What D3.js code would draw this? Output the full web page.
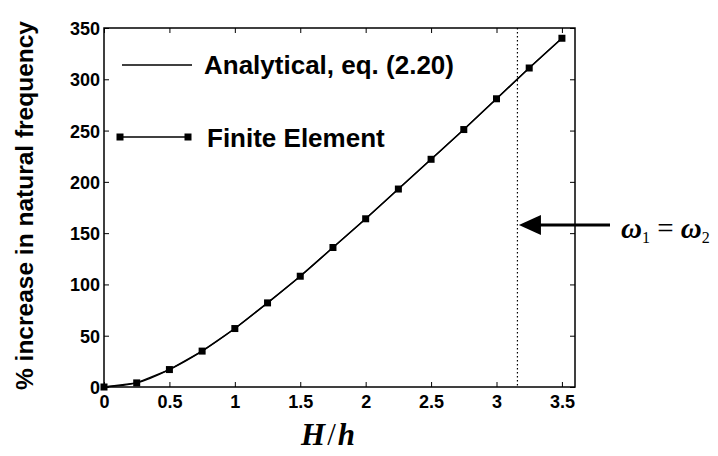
<!DOCTYPE html>
<html>
<head>
<meta charset="utf-8">
<script src="https://cdn.jsdelivr.net/npm/d3@7"></script>
<style>
  html, body { margin: 0; padding: 0; background: #fff; }
  svg { display: block; }
  .tick text { font-family: "Liberation Sans", Arial, sans-serif; font-weight: bold; font-size: 18px; fill: #000; }
</style>
</head>
<body>
<svg id="chart" width="718" height="456"></svg>
<script>
// Thickness ratio H/h and the percentage increase in natural frequency
const ratio = [0, 0.25, 0.5, 0.75, 1, 1.25, 1.5, 1.75, 2, 2.25, 2.5, 2.75, 3, 3.25, 3.5];
const increaseFE = [0, 4, 17, 35, 57, 82, 108, 136, 164, 193, 222, 251, 281, 311, 340];
const increaseAnalytical = [0, 4, 17, 35, 57, 82, 108, 136, 164, 193, 222, 251, 281, 311, 340];
const xTicks = [0, 0.5, 1, 1.5, 2, 2.5, 3, 3.5];
const yTicks = [0, 50, 100, 150, 200, 250, 300, 350];
const crossoverRatio = 3.16;   // where ω1 = ω2
const arrowLevel = 158;

const svg = d3.select("#chart");
const plotLeft = 104, plotRight = 575, plotTop = 28, plotBottom = 387;

const x = d3.scaleLinear().domain([0, 3.6]).range([plotLeft, plotRight]);
const y = d3.scaleLinear().domain([0, 350]).range([plotBottom, plotTop]);

// Axes with inward ticks, mirrored on top/right
const gx = svg.append("g").attr("transform", `translate(0,${plotBottom})`)
  .call(d3.axisBottom(x).tickValues(xTicks).tickFormat(d3.format("")).tickSizeInner(-5).tickSizeOuter(0).tickPadding(8));
const gxTop = svg.append("g").attr("transform", `translate(0,${plotTop})`)
  .call(d3.axisTop(x).tickValues(xTicks).tickFormat("").tickSizeInner(-5).tickSizeOuter(0));
const gy = svg.append("g").attr("transform", `translate(${plotLeft},0)`)
  .call(d3.axisLeft(y).tickValues(yTicks).tickFormat(d3.format("")).tickSizeInner(-5).tickSizeOuter(0).tickPadding(4));
const gyRight = svg.append("g").attr("transform", `translate(${plotRight},0)`)
  .call(d3.axisRight(y).tickValues(yTicks).tickFormat("").tickSizeInner(-5).tickSizeOuter(0));
[gx, gxTop, gy, gyRight].forEach(g => {
  g.select(".domain").remove();
  g.selectAll(".tick line").attr("stroke", "#000").attr("stroke-width", 1);
});
gy.selectAll(".tick text").attr("dy", "0.36em");

// Plot box
svg.append("rect").attr("x", plotLeft).attr("y", plotTop)
  .attr("width", plotRight - plotLeft).attr("height", plotBottom - plotTop)
  .attr("fill", "none").attr("stroke", "#000").attr("stroke-width", 1.5);

// Crossover line
svg.append("line")
  .attr("x1", x(crossoverRatio)).attr("x2", x(crossoverRatio))
  .attr("y1", plotTop).attr("y2", plotBottom)
  .attr("stroke", "#000").attr("stroke-width", 1.2).attr("stroke-dasharray", "1.5,2.5");

// Analytical curve
const analyticalPts = ratio.map((r, i) => [r, increaseAnalytical[i]]);
svg.append("path").datum(analyticalPts)
  .attr("fill", "none").attr("stroke", "#000").attr("stroke-width", 1.4)
  .attr("d", d3.line().x(d => x(d[0])).y(d => y(d[1])).curve(d3.curveMonotoneX));

// Finite element results
const fePts = ratio.map((r, i) => [r, increaseFE[i]]);
svg.append("path").datum(fePts)
  .attr("fill", "none").attr("stroke", "#000").attr("stroke-width", 1.4)
  .attr("d", d3.line().x(d => x(d[0])).y(d => y(d[1])));
svg.selectAll("rect.fe").data(fePts).enter().append("rect")
  .attr("class", "fe")
  .attr("x", d => x(d[0]) - 3.5).attr("y", d => y(d[1]) - 3.5)
  .attr("width", 7).attr("height", 7).attr("fill", "#000");

// Legend
const sansFont = '"Liberation Sans", Arial, sans-serif';
svg.append("line").attr("x1", 122).attr("x2", 192).attr("y1", 65).attr("y2", 65)
  .attr("stroke", "#000").attr("stroke-width", 1.4);
svg.append("text").attr("x", 204).attr("y", 74)
  .attr("font-family", sansFont).attr("font-weight", "bold").attr("font-size", 26)
  .text("Analytical, eq. (2.20)");
svg.append("line").attr("x1", 120).attr("x2", 188).attr("y1", 137).attr("y2", 137)
  .attr("stroke", "#000").attr("stroke-width", 1.4);
[120, 188].forEach(cx => svg.append("rect")
  .attr("x", cx - 3.5).attr("y", 133.5).attr("width", 7).attr("height", 7).attr("fill", "#000"));
svg.append("text").attr("x", 207).attr("y", 147)
  .attr("font-family", sansFont).attr("font-weight", "bold").attr("font-size", 26)
  .text("Finite Element");

// Arrow pointing at the crossover
const tipX = x(crossoverRatio) + 1.5, ay = y(arrowLevel);
svg.append("line").attr("x1", tipX + 18).attr("x2", 610).attr("y1", ay).attr("y2", ay)
  .attr("stroke", "#000").attr("stroke-width", 3);
svg.append("path")
  .attr("d", `M${tipX},${ay} L${tipX + 22},${ay - 10} L${tipX + 22},${ay + 10} Z`)
  .attr("fill", "#000");

// ω1 = ω2
const eq = svg.append("text").attr("x", 621).attr("y", 238)
  .attr("font-family", '"Liberation Serif", "Times New Roman", serif')
  .attr("font-weight", "bold").attr("font-size", 29);
eq.append("tspan").attr("font-style", "italic").text("ω");
eq.append("tspan").attr("font-size", 16).attr("font-weight", "normal").attr("dy", 5).text("1");
eq.append("tspan").attr("dy", -5).attr("font-weight", "normal").text(" = ");
eq.append("tspan").attr("font-style", "italic").text("ω");
eq.append("tspan").attr("font-size", 16).attr("font-weight", "normal").attr("dy", 5).text("2");

// Axis titles
svg.append("text")
  .attr("transform", `translate(33,${(plotTop + plotBottom) / 2 - 2}) rotate(-90)`)
  .attr("text-anchor", "middle")
  .attr("font-family", sansFont).attr("font-weight", "bold").attr("font-size", 24.5)
  .text("% increase in natural frequency");
const xt = svg.append("text").attr("x", 328).attr("y", 445)
  .attr("text-anchor", "middle")
  .attr("font-family", '"Liberation Serif", "Times New Roman", serif')
  .attr("font-weight", "bold").attr("font-style", "italic").attr("font-size", 31);
xt.append("tspan").text("H");
xt.append("tspan").attr("font-style", "normal").attr("font-weight", "normal").attr("dx", 2).text("/");
xt.append("tspan").attr("dx", 2).text("h");
</script>
</body>
</html>
